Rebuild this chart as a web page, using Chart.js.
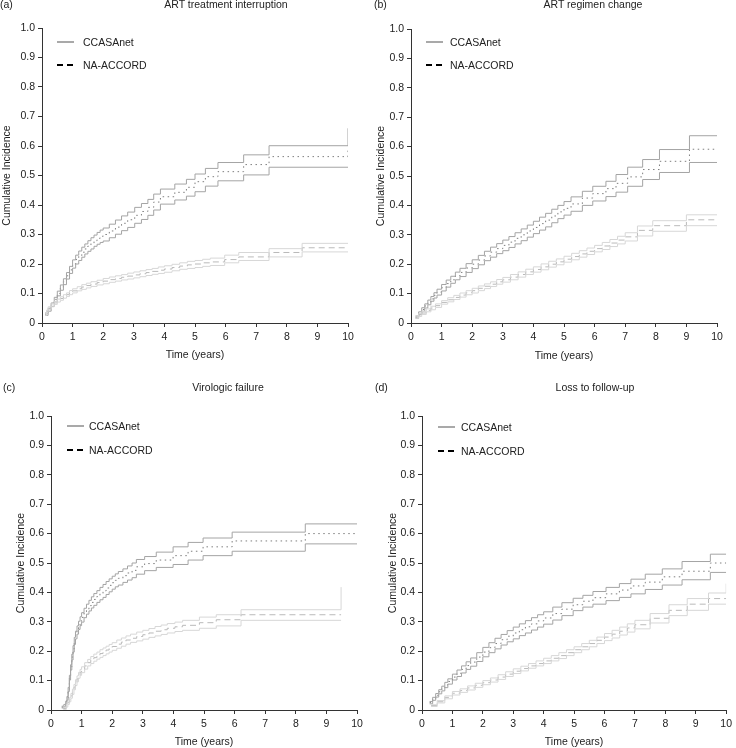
<!DOCTYPE html>
<html>
<head>
<meta charset="utf-8">
<script src="https://cdn.jsdelivr.net/npm/chart.js@4.4.0/dist/chart.umd.min.js"></script>
<style>
  body { margin: 0; background: #fff; font-family: "Liberation Sans", Arial, sans-serif; color: #222; }
  #page { position: relative; width: 736px; height: 748px; overflow: hidden; }
  .panel { position: absolute; width: 368px; height: 374px; }
  .panel canvas { position: absolute; left: 0; top: 0; }
  .tag, .title, .key { position: absolute; font-size: 10.5px; line-height: 12px; white-space: nowrap; }
  .title { transform: translateX(-50%); }
  .key svg { position: absolute; left: 0; top: 0; }
  .key span { position: absolute; top: 0; }
</style>
</head>
<body>
<div id="page">
  <div class="panel" style="left:0;top:0">
    <canvas id="chartA" width="368" height="374"></canvas>
    <div class="tag" style="left:0;top:-2px">(a)</div>
    <div class="title" style="left:226px;top:-2px">ART treatment interruption</div>
    <div class="key" style="left:57px;top:36px"><svg width="18" height="12"><line x1="0" y1="6" x2="17" y2="6" stroke="#a9a9a9" stroke-width="2"/></svg><span style="left:26px">CCASAnet</span></div>
    <div class="key" style="left:57px;top:59px"><svg width="18" height="12"><line x1="0" y1="6" x2="17" y2="6" stroke="#000" stroke-width="2" stroke-dasharray="6 4"/></svg><span style="left:26px">NA-ACCORD</span></div>
  </div>
  <div class="panel" style="left:368px;top:0">
    <canvas id="chartB" width="368" height="374"></canvas>
    <div class="tag" style="left:6px;top:-2px">(b)</div>
    <div class="title" style="left:225px;top:-2px">ART regimen change</div>
    <div class="key" style="left:58px;top:36px"><svg width="18" height="12"><line x1="0" y1="6" x2="17" y2="6" stroke="#a9a9a9" stroke-width="2"/></svg><span style="left:24px">CCASAnet</span></div>
    <div class="key" style="left:58px;top:59px"><svg width="18" height="12"><line x1="0" y1="6" x2="17" y2="6" stroke="#000" stroke-width="2" stroke-dasharray="6 4"/></svg><span style="left:24px">NA-ACCORD</span></div>
  </div>
  <div class="panel" style="left:0;top:374px">
    <canvas id="chartC" width="368" height="374"></canvas>
    <div class="tag" style="left:3px;top:7px">(c)</div>
    <div class="title" style="left:228px;top:7px">Virologic failure</div>
    <div class="key" style="left:67px;top:46px"><svg width="18" height="12"><line x1="0" y1="6" x2="17" y2="6" stroke="#a9a9a9" stroke-width="2"/></svg><span style="left:22px">CCASAnet</span></div>
    <div class="key" style="left:67px;top:70px"><svg width="18" height="12"><line x1="0" y1="6" x2="17" y2="6" stroke="#000" stroke-width="2" stroke-dasharray="6 4"/></svg><span style="left:22px">NA-ACCORD</span></div>
  </div>
  <div class="panel" style="left:368px;top:374px">
    <canvas id="chartD" width="368" height="374"></canvas>
    <div class="tag" style="left:7px;top:7px">(d)</div>
    <div class="title" style="left:227px;top:7px">Loss to follow-up</div>
    <div class="key" style="left:70px;top:47px"><svg width="18" height="12"><line x1="0" y1="6" x2="17" y2="6" stroke="#a9a9a9" stroke-width="2"/></svg><span style="left:23px">CCASAnet</span></div>
    <div class="key" style="left:70px;top:71px"><svg width="18" height="12"><line x1="0" y1="6" x2="17" y2="6" stroke="#000" stroke-width="2" stroke-dasharray="6 4"/></svg><span style="left:23px">NA-ACCORD</span></div>
  </div>
</div>
<script>
// Step points: time (years) where the curve jumps, and the level after the jump.
// (a) ART treatment interruption
const aCcTime = [0.1, 0.2, 0.3, 0.4, 0.5, 0.6, 0.7, 0.8, 0.9, 1.0, 1.1, 1.2, 1.3, 1.4, 1.5, 1.6, 1.7, 1.8, 1.9, 2.0, 2.2, 2.4, 2.6, 2.8, 3.03, 3.25, 3.46, 3.65, 3.87, 4.34, 4.72, 5.0, 5.34, 5.75, 6.59, 7.42, 10];
const aCcEst = [0.03, 0.045, 0.062, 0.08, 0.1, 0.12, 0.14, 0.16, 0.18, 0.2, 0.215, 0.228, 0.24, 0.251, 0.261, 0.27, 0.279, 0.287, 0.294, 0.3, 0.312, 0.325, 0.338, 0.35, 0.365, 0.378, 0.392, 0.41, 0.428, 0.443, 0.46, 0.479, 0.496, 0.513, 0.537, 0.564, 0.585];
const aCcHi = [0.034, 0.05, 0.068, 0.087, 0.108, 0.129, 0.15, 0.171, 0.192, 0.214, 0.23, 0.244, 0.257, 0.268, 0.279, 0.289, 0.298, 0.307, 0.315, 0.322, 0.335, 0.349, 0.363, 0.376, 0.392, 0.405, 0.419, 0.437, 0.454, 0.471, 0.487, 0.505, 0.524, 0.544, 0.57, 0.601, 0.66];
const aCcLo = [0.026, 0.04, 0.056, 0.073, 0.092, 0.111, 0.13, 0.149, 0.168, 0.186, 0.2, 0.212, 0.223, 0.234, 0.243, 0.251, 0.26, 0.267, 0.273, 0.278, 0.289, 0.301, 0.313, 0.324, 0.338, 0.351, 0.365, 0.383, 0.403, 0.417, 0.43, 0.445, 0.464, 0.482, 0.502, 0.528, 0.528];
const aNaTime = [0.1, 0.15, 0.2, 0.3, 0.4, 0.5, 0.6, 0.7, 0.8, 0.9, 1.0, 1.15, 1.3, 1.45, 1.6, 1.8, 2.0, 2.2, 2.4, 2.6, 2.8, 3.0, 3.2, 3.4, 3.6, 3.8, 4.0, 4.25, 4.5, 4.75, 5.0, 5.25, 5.5, 5.97, 6.43, 7.42, 8.5, 10];
const aNaEst = [0.03, 0.04, 0.05, 0.06, 0.068, 0.076, 0.083, 0.09, 0.096, 0.103, 0.109, 0.116, 0.122, 0.127, 0.132, 0.137, 0.142, 0.147, 0.151, 0.155, 0.159, 0.163, 0.167, 0.171, 0.175, 0.179, 0.183, 0.188, 0.193, 0.197, 0.2, 0.204, 0.207, 0.215, 0.224, 0.239, 0.255, 0.255];
const aNaHi = [0.034, 0.044, 0.055, 0.065, 0.073, 0.081, 0.089, 0.096, 0.102, 0.11, 0.116, 0.123, 0.13, 0.135, 0.14, 0.145, 0.151, 0.156, 0.16, 0.164, 0.169, 0.173, 0.177, 0.181, 0.185, 0.19, 0.194, 0.199, 0.204, 0.209, 0.212, 0.216, 0.22, 0.23, 0.239, 0.252, 0.27, 0.27];
const aNaLo = [0.026, 0.036, 0.045, 0.055, 0.063, 0.071, 0.077, 0.084, 0.09, 0.096, 0.102, 0.109, 0.114, 0.119, 0.124, 0.129, 0.133, 0.138, 0.142, 0.146, 0.149, 0.153, 0.157, 0.161, 0.165, 0.168, 0.172, 0.177, 0.182, 0.185, 0.188, 0.192, 0.195, 0.204, 0.212, 0.224, 0.241, 0.241];

// (b) ART regimen change
const bCcTime = [0.15, 0.25, 0.35, 0.45, 0.55, 0.65, 0.75, 0.85, 1.0, 1.15, 1.3, 1.45, 1.6, 1.8, 2.0, 2.2, 2.4, 2.6, 2.8, 3.0, 3.2, 3.4, 3.6, 3.8, 4.0, 4.2, 4.4, 4.6, 4.8, 5.0, 5.23, 5.6, 5.94, 6.37, 6.7, 7.08, 7.57, 8.12, 9.1, 10];
const bCcEst = [0.02, 0.033, 0.046, 0.058, 0.07, 0.082, 0.094, 0.105, 0.12, 0.134, 0.147, 0.16, 0.172, 0.187, 0.2, 0.214, 0.228, 0.241, 0.253, 0.264, 0.275, 0.288, 0.3, 0.313, 0.325, 0.338, 0.35, 0.364, 0.378, 0.39, 0.405, 0.425, 0.44, 0.457, 0.475, 0.497, 0.522, 0.55, 0.591, 0.591];
const bCcHi = [0.024, 0.038, 0.052, 0.065, 0.078, 0.09, 0.103, 0.115, 0.131, 0.146, 0.159, 0.173, 0.186, 0.202, 0.215, 0.23, 0.244, 0.258, 0.27, 0.282, 0.294, 0.307, 0.32, 0.333, 0.346, 0.36, 0.373, 0.387, 0.4, 0.413, 0.429, 0.448, 0.465, 0.482, 0.505, 0.53, 0.556, 0.59, 0.637, 0.637];
const bCcLo = [0.016, 0.028, 0.04, 0.051, 0.062, 0.074, 0.085, 0.095, 0.109, 0.122, 0.135, 0.147, 0.158, 0.172, 0.185, 0.198, 0.212, 0.224, 0.236, 0.246, 0.257, 0.269, 0.28, 0.292, 0.304, 0.316, 0.327, 0.341, 0.355, 0.367, 0.38, 0.4, 0.415, 0.43, 0.445, 0.465, 0.488, 0.512, 0.546, 0.546];
const bNaTime = [0.15, 0.25, 0.35, 0.5, 0.65, 0.8, 1.0, 1.2, 1.4, 1.6, 1.8, 2.0, 2.2, 2.4, 2.6, 2.8, 3.0, 3.25, 3.5, 3.75, 4.0, 4.25, 4.5, 4.75, 5.0, 5.25, 5.5, 5.75, 6.0, 6.25, 6.5, 6.75, 7.0, 7.4, 7.9, 9.0, 10];
const bNaEst = [0.02, 0.027, 0.034, 0.043, 0.051, 0.059, 0.07, 0.079, 0.087, 0.095, 0.103, 0.11, 0.118, 0.125, 0.132, 0.14, 0.147, 0.156, 0.165, 0.174, 0.182, 0.191, 0.2, 0.208, 0.217, 0.226, 0.235, 0.244, 0.253, 0.262, 0.272, 0.282, 0.293, 0.315, 0.331, 0.351, 0.351];
const bNaHi = [0.024, 0.032, 0.039, 0.048, 0.057, 0.065, 0.076, 0.086, 0.094, 0.102, 0.11, 0.118, 0.126, 0.133, 0.14, 0.148, 0.155, 0.165, 0.174, 0.183, 0.191, 0.201, 0.21, 0.218, 0.227, 0.237, 0.246, 0.255, 0.264, 0.274, 0.284, 0.295, 0.307, 0.33, 0.348, 0.368, 0.368];
const bNaLo = [0.016, 0.022, 0.029, 0.038, 0.045, 0.053, 0.064, 0.072, 0.08, 0.088, 0.096, 0.102, 0.11, 0.117, 0.124, 0.132, 0.139, 0.147, 0.156, 0.165, 0.173, 0.181, 0.19, 0.198, 0.207, 0.215, 0.224, 0.233, 0.242, 0.25, 0.26, 0.269, 0.279, 0.296, 0.312, 0.331, 0.331];

// (c) Virologic failure
const cCcTime = [0.35, 0.42, 0.48, 0.52, 0.56, 0.6, 0.64, 0.68, 0.72, 0.76, 0.8, 0.85, 0.9, 0.95, 1.0, 1.08, 1.16, 1.24, 1.32, 1.4, 1.5, 1.6, 1.7, 1.8, 1.9, 2.0, 2.1, 2.2, 2.35, 2.5, 2.65, 2.79, 3.06, 3.44, 3.99, 4.48, 4.97, 5.92, 8.31, 10];
const cCcEst = [0.01, 0.015, 0.025, 0.04, 0.07, 0.11, 0.145, 0.18, 0.208, 0.235, 0.255, 0.272, 0.288, 0.302, 0.315, 0.33, 0.343, 0.355, 0.366, 0.376, 0.386, 0.396, 0.405, 0.415, 0.424, 0.433, 0.441, 0.448, 0.457, 0.466, 0.475, 0.487, 0.498, 0.51, 0.525, 0.54, 0.555, 0.575, 0.6, 0.6];
const cCcHi = [0.013, 0.019, 0.03, 0.046, 0.077, 0.118, 0.154, 0.19, 0.219, 0.247, 0.268, 0.286, 0.302, 0.317, 0.331, 0.346, 0.36, 0.373, 0.385, 0.396, 0.406, 0.417, 0.427, 0.437, 0.446, 0.455, 0.463, 0.471, 0.48, 0.49, 0.5, 0.512, 0.522, 0.537, 0.555, 0.57, 0.585, 0.605, 0.633, 0.633];
const cCcLo = [0.007, 0.011, 0.02, 0.034, 0.063, 0.102, 0.136, 0.17, 0.197, 0.223, 0.242, 0.258, 0.274, 0.287, 0.299, 0.314, 0.326, 0.337, 0.347, 0.356, 0.366, 0.375, 0.383, 0.393, 0.402, 0.411, 0.419, 0.425, 0.434, 0.442, 0.45, 0.462, 0.474, 0.485, 0.495, 0.51, 0.525, 0.54, 0.565, 0.565];
const cNaTime = [0.4, 0.5, 0.55, 0.6, 0.65, 0.7, 0.75, 0.8, 0.85, 0.9, 0.95, 1.0, 1.1, 1.2, 1.3, 1.4, 1.5, 1.6, 1.7, 1.8, 1.9, 2.0, 2.15, 2.3, 2.45, 2.6, 2.8, 3.0, 3.2, 3.4, 3.6, 3.8, 4.05, 4.3, 4.85, 5.4, 6.21, 9.48];
const cNaEst = [0.005, 0.015, 0.025, 0.035, 0.048, 0.062, 0.078, 0.093, 0.106, 0.118, 0.128, 0.137, 0.15, 0.161, 0.17, 0.178, 0.185, 0.192, 0.198, 0.204, 0.21, 0.216, 0.224, 0.231, 0.238, 0.244, 0.25, 0.256, 0.262, 0.268, 0.273, 0.278, 0.283, 0.288, 0.297, 0.307, 0.324, 0.324];
const cNaHi = [0.009, 0.02, 0.031, 0.042, 0.056, 0.071, 0.087, 0.103, 0.116, 0.128, 0.138, 0.147, 0.161, 0.172, 0.182, 0.19, 0.197, 0.205, 0.211, 0.217, 0.223, 0.229, 0.238, 0.245, 0.252, 0.258, 0.265, 0.271, 0.277, 0.284, 0.289, 0.294, 0.299, 0.305, 0.316, 0.324, 0.341, 0.418];
const cNaLo = [0.002, 0.01, 0.019, 0.028, 0.04, 0.053, 0.069, 0.083, 0.096, 0.108, 0.118, 0.127, 0.139, 0.15, 0.158, 0.166, 0.173, 0.179, 0.185, 0.191, 0.197, 0.203, 0.21, 0.217, 0.224, 0.23, 0.235, 0.241, 0.247, 0.252, 0.257, 0.262, 0.267, 0.271, 0.278, 0.286, 0.305, 0.305];

// (d) Loss to follow-up
const dCcTime = [0.25, 0.35, 0.45, 0.55, 0.65, 0.75, 0.85, 1.0, 1.15, 1.3, 1.45, 1.6, 1.8, 2.0, 2.2, 2.4, 2.6, 2.8, 3.0, 3.2, 3.4, 3.6, 3.8, 4.0, 4.3, 4.6, 4.97, 5.29, 5.62, 6.05, 6.49, 6.87, 7.34, 7.9, 8.55, 9.48, 10];
const dCcEst = [0.025, 0.038, 0.05, 0.062, 0.073, 0.085, 0.097, 0.112, 0.125, 0.138, 0.151, 0.163, 0.18, 0.197, 0.212, 0.226, 0.239, 0.251, 0.262, 0.273, 0.283, 0.293, 0.303, 0.313, 0.328, 0.343, 0.358, 0.37, 0.382, 0.395, 0.408, 0.422, 0.435, 0.453, 0.472, 0.5, 0.5];
const dCcHi = [0.029, 0.043, 0.056, 0.069, 0.081, 0.094, 0.106, 0.122, 0.136, 0.15, 0.164, 0.177, 0.195, 0.213, 0.229, 0.244, 0.257, 0.27, 0.282, 0.293, 0.304, 0.314, 0.324, 0.334, 0.35, 0.365, 0.38, 0.39, 0.403, 0.417, 0.43, 0.445, 0.462, 0.48, 0.505, 0.53, 0.53];
const dCcLo = [0.021, 0.033, 0.044, 0.055, 0.065, 0.076, 0.088, 0.102, 0.114, 0.126, 0.138, 0.149, 0.165, 0.181, 0.195, 0.208, 0.221, 0.232, 0.242, 0.253, 0.262, 0.272, 0.282, 0.292, 0.306, 0.321, 0.338, 0.35, 0.36, 0.372, 0.383, 0.395, 0.41, 0.425, 0.443, 0.468, 0.468];
const dNaTime = [0.3, 0.5, 0.75, 1.0, 1.25, 1.5, 1.75, 2.0, 2.25, 2.5, 2.75, 3.0, 3.25, 3.5, 3.75, 4.0, 4.25, 4.5, 4.75, 5.0, 5.25, 5.5, 5.75, 6.0, 6.25, 6.5, 6.75, 7.0, 7.5, 8.12, 8.72, 9.42, 10];
const dNaEst = [0.015, 0.028, 0.043, 0.057, 0.066, 0.075, 0.084, 0.093, 0.102, 0.112, 0.122, 0.132, 0.141, 0.15, 0.158, 0.167, 0.176, 0.185, 0.195, 0.205, 0.215, 0.226, 0.237, 0.248, 0.258, 0.268, 0.279, 0.29, 0.312, 0.339, 0.36, 0.379, 0.379];
const dNaHi = [0.018, 0.032, 0.048, 0.063, 0.072, 0.082, 0.091, 0.1, 0.109, 0.12, 0.13, 0.14, 0.149, 0.158, 0.167, 0.176, 0.185, 0.195, 0.205, 0.215, 0.226, 0.237, 0.248, 0.26, 0.271, 0.282, 0.293, 0.305, 0.328, 0.358, 0.379, 0.398, 0.43];
const dNaLo = [0.012, 0.024, 0.038, 0.051, 0.06, 0.068, 0.077, 0.086, 0.095, 0.104, 0.114, 0.124, 0.133, 0.142, 0.15, 0.158, 0.167, 0.175, 0.185, 0.195, 0.205, 0.215, 0.226, 0.236, 0.245, 0.255, 0.265, 0.276, 0.296, 0.321, 0.339, 0.36, 0.36];

const xTicks = [0, 1, 2, 3, 4, 5, 6, 7, 8, 9, 10];
const yTicks = [0, 0.1, 0.2, 0.3, 0.4, 0.5, 0.6, 0.7, 0.8, 0.9, 1.0];

const CC_CI = '#a4a4a4';
const CC_EST = '#7e7e7e';
const NA_CI = '#d7d7d7';
const NA_EST = '#bababa';
const FONT = { family: '"Liberation Sans", Arial, sans-serif', size: 10.5 };

Chart.defaults.font = FONT;
Chart.defaults.color = '#222';

function step(times, values, color, dash) {
    return {
        data: times.map((t, i) => ({ x: t, y: values[i] })),
        borderColor: color,
        borderWidth: 1,
        borderDash: dash || [],
        stepped: true,
        pointRadius: 0,
        fill: false
    };
}

// box: plot area inside the 368x374 canvas, plus where the axis titles sit
function makePanel(id, box, cc, na) {
    new Chart(document.getElementById(id), {
        type: 'line',
        data: {
            datasets: [
                step(na.t, na.lo, NA_CI),
                step(na.t, na.hi, NA_CI),
                step(na.t, na.est, NA_EST, [6, 4]),
                step(cc.t, cc.lo, CC_CI),
                step(cc.t, cc.hi, CC_CI),
                step(cc.t, cc.est, CC_EST, [1.5, 3.5])
            ]
        },
        options: {
            responsive: false,
            animation: false,
            devicePixelRatio: 1,
            layout: {
                padding: { left: box.yTitle - 6.3, right: 368 - box.r, top: box.t, bottom: Math.max(0, 374 - box.xTitle - 6.3) }
            },
            plugins: { legend: { display: false }, tooltip: { enabled: false } },
            scales: {
                x: {
                    type: 'linear',
                    min: 0,
                    max: 10,
                    afterBuildTicks: s => { s.ticks = xTicks.map(v => ({ value: v })); },
                    afterFit: s => { s.height = Math.min(374, box.xTitle + 6.3) - box.b; },
                    ticks: { padding: 4, maxRotation: 0, callback: v => String(v) },
                    grid: { drawOnChartArea: false, drawTicks: true, tickLength: 4, color: '#333' },
                    border: { color: '#333', width: 1 },
                    title: { display: true, text: 'Time (years)', padding: 0 }
                },
                y: {
                    min: 0,
                    max: 1,
                    afterBuildTicks: s => { s.ticks = yTicks.map(v => ({ value: v })); },
                    afterFit: s => { s.width = box.l - (box.yTitle - 6.3); },
                    ticks: { padding: 3, callback: v => v === 0 ? '0' : v.toFixed(1) },
                    grid: { drawOnChartArea: false, drawTicks: true, tickLength: 4, color: '#333' },
                    border: { color: '#333', width: 1 },
                    title: { display: true, text: 'Cumulative Incidence', padding: 0 }
                }
            }
        }
    });
}

makePanel('chartA', { l: 42, r: 348, t: 28, b: 323, yTitle: 7.5, xTitle: 355 },
    { t: aCcTime, est: aCcEst, hi: aCcHi, lo: aCcLo },
    { t: aNaTime, est: aNaEst, hi: aNaHi, lo: aNaLo });
makePanel('chartB', { l: 43, r: 349, t: 29, b: 323, yTitle: 13.5, xTitle: 356 },
    { t: bCcTime, est: bCcEst, hi: bCcHi, lo: bCcLo },
    { t: bNaTime, est: bNaEst, hi: bNaHi, lo: bNaLo });
makePanel('chartC', { l: 51, r: 357, t: 42, b: 336, yTitle: 21, xTitle: 368 },
    { t: cCcTime, est: cCcEst, hi: cCcHi, lo: cCcLo },
    { t: cNaTime, est: cNaEst, hi: cNaHi, lo: cNaLo });
makePanel('chartD', { l: 54, r: 361, t: 42, b: 336, yTitle: 25.5, xTitle: 368 },
    { t: dCcTime, est: dCcEst, hi: dCcHi, lo: dCcLo },
    { t: dNaTime, est: dNaEst, hi: dNaHi, lo: dNaLo });
</script>
</body>
</html>
